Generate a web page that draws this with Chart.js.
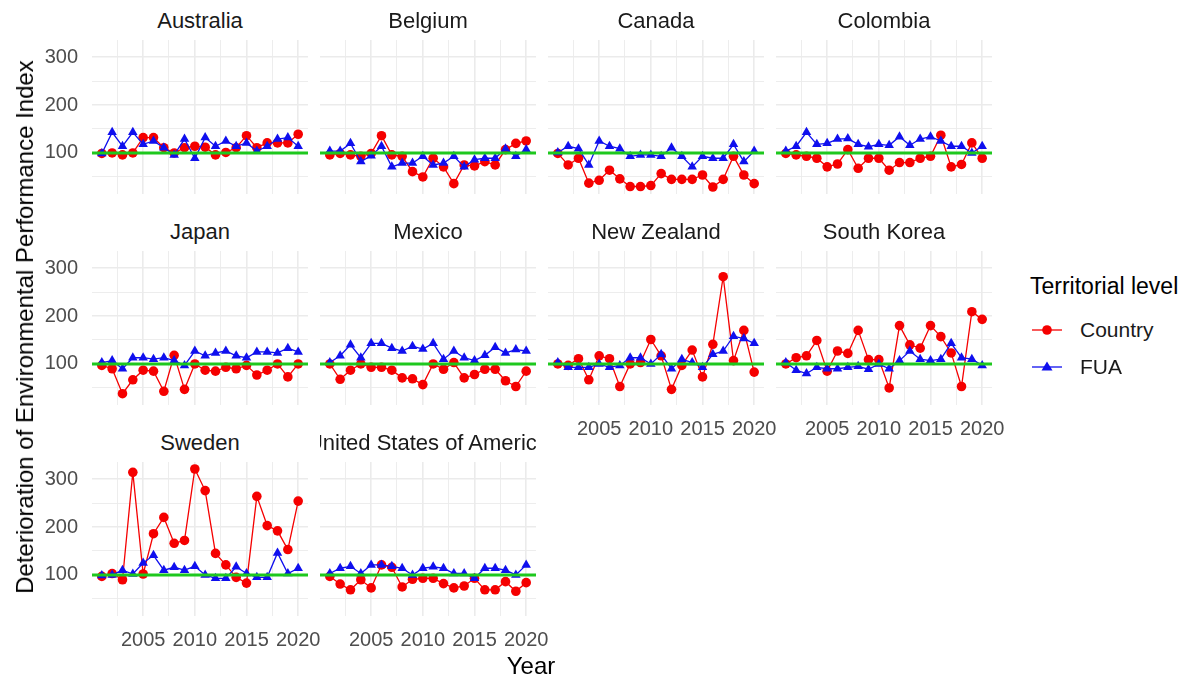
<!DOCTYPE html>
<html>
<head>
<meta charset="utf-8">
<script src="https://cdn.jsdelivr.net/npm/chart.js@4.4.1/dist/chart.umd.min.js"></script>
<style>
  body { margin: 0; background: #fff; font-family: "Liberation Sans", Arial, sans-serif; }
  #fig { position: relative; width: 1200px; height: 681px; overflow: hidden; }
  #fig canvas { position: absolute; }
  .strip { position: absolute; display: flex; justify-content: center; overflow: hidden;
           white-space: nowrap; font-size: 22px; line-height: 24px; color: #1a1a1a; }
  .title { position: absolute; font-size: 24px; color: #000; white-space: nowrap; }
  .legend-item { position: absolute; font-size: 21px; color: #1a1a1a; display: flex; align-items: center; }
</style>
</head>
<body>
<div id="fig"></div>
<script>
// ================= DATA =================
const YEARS = [2001, 2002, 2003, 2004, 2005, 2006, 2007, 2008, 2009, 2010,
               2011, 2012, 2013, 2014, 2015, 2016, 2017, 2018, 2019, 2020];

const COUNTRIES = ['Australia', 'Belgium', 'Canada', 'Colombia', 'Japan', 'Mexico',
                   'New Zealand', 'South Korea', 'Sweden', 'United States of America'];

const X_MAJOR = [2005, 2010, 2015, 2020];
const X_MINOR = [2002.5, 2007.5, 2012.5, 2017.5];
const Y_MAJOR = [100, 200, 300];
const Y_MINOR = [50, 150, 250];
const BASELINE = [100];

// Country level
const AUS_COUNTRY = [99, 100, 96, 100, 132, 132, 111, 100, 111, 114, 112, 96, 101, 111, 136, 111, 121, 121, 121, 139];
const BEL_COUNTRY = [96, 99, 96, 93, 99, 136, 96, 93, 61, 50, 89, 71, 36, 75, 73, 82, 75, 107, 120, 125];
const CAN_COUNTRY = [99, 75, 89, 37, 43, 64, 46, 30, 30, 32, 57, 45, 45, 45, 54, 29, 45, 93, 54, 36];
const COL_COUNTRY = [99, 96, 93, 89, 71, 77, 107, 68, 89, 89, 64, 80, 80, 89, 93, 137, 71, 76, 121, 89];
const JPN_COUNTRY = [97, 90, 38, 67, 87, 85, 43, 118, 47, 100, 87, 85, 93, 90, 97, 77, 87, 100, 73, 100];
const MEX_COUNTRY = [100, 68, 87, 100, 93, 93, 87, 71, 69, 57, 100, 89, 103, 71, 78, 89, 89, 65, 53, 85];
const NZL_COUNTRY = [100, 97, 111, 67, 117, 111, 53, 100, 103, 151, 117, 47, 97, 129, 73, 141, 282, 107, 170, 83];
const KOR_COUNTRY = [100, 113, 117, 149, 85, 127, 122, 170, 109, 109, 50, 180, 140, 133, 180, 157, 123, 53, 209, 193];
const SWE_COUNTRY = [97, 103, 90, 314, 102, 186, 220, 166, 172, 321, 276, 145, 121, 95, 83, 264, 203, 192, 153, 254];
const USA_COUNTRY = [97, 81, 69, 90, 73, 121, 116, 75, 91, 93, 93, 82, 73, 77, 93, 69, 69, 86, 66, 84];

// FUA level
const AUS_FUA = [99, 143, 114, 143, 118, 125, 111, 96, 129, 89, 132, 114, 125, 114, 121, 104, 114, 129, 132, 114];
const BEL_FUA = [104, 104, 120, 82, 94, 114, 71, 79, 79, 93, 75, 79, 93, 71, 86, 89, 89, 109, 93, 107];
const CAN_FUA = [101, 114, 109, 75, 125, 114, 109, 93, 96, 96, 93, 111, 93, 71, 93, 89, 89, 118, 82, 104];
const COL_FUA = [104, 114, 143, 118, 120, 129, 130, 118, 113, 118, 116, 134, 116, 129, 134, 125, 114, 114, 100, 114];
const JPN_FUA = [103, 107, 90, 113, 113, 110, 113, 107, 97, 127, 117, 123, 127, 117, 113, 125, 125, 123, 133, 125];
const MEX_FUA = [103, 117, 140, 113, 143, 143, 133, 127, 137, 131, 143, 110, 127, 113, 107, 118, 135, 123, 130, 127];
const NZL_FUA = [103, 93, 93, 93, 100, 93, 97, 113, 113, 100, 120, 90, 110, 103, 93, 120, 127, 158, 153, 143];
const KOR_FUA = [103, 87, 80, 93, 90, 90, 93, 95, 89, 100, 90, 107, 127, 110, 107, 110, 143, 113, 110, 97];
const SWE_FUA = [99, 100, 110, 102, 125, 141, 110, 116, 110, 118, 100, 93, 93, 117, 103, 95, 95, 146, 103, 114];
const USA_FUA = [103, 114, 118, 103, 121, 121, 118, 114, 100, 114, 117, 114, 103, 103, 93, 114, 114, 110, 100, 121];

const SERIES = {
    'Australia': [AUS_COUNTRY, AUS_FUA],
    'Belgium': [BEL_COUNTRY, BEL_FUA],
    'Canada': [CAN_COUNTRY, CAN_FUA],
    'Colombia': [COL_COUNTRY, COL_FUA],
    'Japan': [JPN_COUNTRY, JPN_FUA],
    'Mexico': [MEX_COUNTRY, MEX_FUA],
    'New Zealand': [NZL_COUNTRY, NZL_FUA],
    'South Korea': [KOR_COUNTRY, KOR_FUA],
    'Sweden': [SWE_COUNTRY, SWE_FUA],
    'United States of America': [USA_COUNTRY, USA_FUA]
};

// ================= LAYOUT =================
const X_MIN = 2000.05, X_MAX = 2020.95;   // ggplot 5% expansion
const Y_MIN = 14.4, Y_MAX = 335.6;
const PLOT_LEFT = 92, PLOT_TOP = 40, PLOT_W = 216, PLOT_H = 154;
const COL_STEP = 228, ROW_STEP = 211;
const Y_AXIS_W = 92, X_AXIS_H = 44, PAD_RIGHT = 30;

const RED = '#f50000', BLUE = '#0f0fee', GREEN = '#1ec81e';
const GRID = '#ebebeb';
const TICK_COLOR = '#4d4d4d';
const FONT = '"Liberation Sans", Arial, sans-serif';

const fig = document.getElementById('fig');

function xy(values) {
    return YEARS.map((yr, i) => ({ x: yr, y: values[i] }));
}

function gridStyle(major) {
    return {
        color: GRID,
        lineWidth: ctx => (ctx.tick && major.includes(ctx.tick.value)) ? 1.6 : 0.9,
        drawTicks: false
    };
}

// scales must not push the plot area around (fixed facet grid)
function noPadding(s) {
    s.paddingTop = 0; s.paddingBottom = 0; s.paddingLeft = 0; s.paddingRight = 0;
}

// ================= PANEL =================
function makePanel(name, idx) {
    const col = idx % 4, row = Math.floor(idx / 4);
    const showY = col === 0;
    const showX = row === 2 || (row === 1 && col >= 2);
    const plotLeft = PLOT_LEFT + col * COL_STEP;
    const plotTop = PLOT_TOP + row * ROW_STEP;

    const canvas = document.createElement('canvas');
    const w = (showY ? Y_AXIS_W : 0) + PLOT_W + PAD_RIGHT;
    const h = PLOT_H + (showX ? X_AXIS_H : 0);
    canvas.width = w; canvas.height = h;
    canvas.style.width = w + 'px'; canvas.style.height = h + 'px';
    canvas.style.left = (showY ? plotLeft - Y_AXIS_W : plotLeft) + 'px';
    canvas.style.top = plotTop + 'px';
    fig.appendChild(canvas);

    const strip = document.createElement('div');
    strip.className = 'strip';
    strip.style.left = plotLeft + 'px';
    strip.style.width = PLOT_W + 'px';
    strip.style.top = (plotTop - 31) + 'px';
    strip.innerHTML = '<span>' + name + '</span>';
    fig.appendChild(strip);

    const [country, fua] = SERIES[name];

    return new Chart(canvas.getContext('2d'), {
        type: 'line',
        data: {
            datasets: [
                {
                    label: 'ref',
                    data: [{ x: X_MIN, y: BASELINE[0] }, { x: X_MAX, y: BASELINE[0] }],
                    borderColor: GREEN, borderWidth: 3, pointRadius: 0, order: 0
                },
                {
                    label: 'FUA',
                    data: xy(fua),
                    borderColor: BLUE, borderWidth: 1.3,
                    pointStyle: 'triangle', pointRadius: 5.5,
                    pointBackgroundColor: BLUE, pointBorderColor: BLUE, pointBorderWidth: 0,
                    order: 1
                },
                {
                    label: 'Country',
                    data: xy(country),
                    borderColor: RED, borderWidth: 1.3,
                    pointStyle: 'circle', pointRadius: 4.8,
                    pointBackgroundColor: RED, pointBorderColor: RED, pointBorderWidth: 0,
                    order: 2
                }
            ]
        },
        options: {
            responsive: false,
            animation: false,
            devicePixelRatio: 1,
            layout: { autoPadding: false, padding: { left: 0, top: 0, bottom: 0, right: PAD_RIGHT } },
            plugins: { legend: { display: false }, tooltip: { enabled: false } },
            elements: { line: { tension: 0 } },
            scales: {
                x: {
                    type: 'linear', min: X_MIN, max: X_MAX,
                    afterBuildTicks: s => { s.ticks = X_MINOR.concat(X_MAJOR).sort((a, b) => a - b).map(v => ({ value: v })); },
                    afterFit: s => { s.height = showX ? X_AXIS_H : 0; noPadding(s); },
                    grid: gridStyle(X_MAJOR),
                    border: { display: false },
                    ticks: {
                        display: showX, autoSkip: false, maxRotation: 0, padding: 12,
                        color: TICK_COLOR, font: { family: FONT, size: 20 },
                        callback: v => X_MAJOR.includes(v) ? String(v) : ''
                    }
                },
                y: {
                    type: 'linear', min: Y_MIN, max: Y_MAX,
                    afterBuildTicks: s => { s.ticks = Y_MINOR.concat(Y_MAJOR).sort((a, b) => a - b).map(v => ({ value: v })); },
                    afterFit: s => { s.width = showY ? Y_AXIS_W : 0; noPadding(s); },
                    grid: gridStyle(Y_MAJOR),
                    border: { display: false },
                    ticks: {
                        display: showY, autoSkip: false, padding: 14,
                        color: TICK_COLOR, font: { family: FONT, size: 20 },
                        callback: v => Y_MAJOR.includes(v) ? String(v) : ''
                    }
                }
            }
        }
    });
}

COUNTRIES.forEach((name, i) => makePanel(name, i));

// ================= TITLES & LEGEND =================
function addText(cls, text, css) {
    const d = document.createElement('div');
    d.className = cls;
    d.textContent = text;
    Object.assign(d.style, css);
    fig.appendChild(d);
    return d;
}

addText('title', 'Year', { left: '531px', top: '666px', transform: 'translate(-50%, -50%)' });
addText('title', 'Deterioration of Environmental Performance Index',
    { left: '25px', top: '327px', transform: 'translate(-50%, -50%) rotate(-90deg)' });
addText('title', 'Territorial level', { left: '1030px', top: '286px', transform: 'translateY(-50%)', fontSize: '23px' });

function legendItem(label, color, marker, y) {
    const d = document.createElement('div');
    d.className = 'legend-item';
    d.style.left = '1030px';
    d.style.top = (y - 15) + 'px';
    d.style.height = '30px';
    const shape = marker === 'circle'
        ? '<circle cx="17" cy="15" r="4.8" fill="' + color + '"/>'
        : '<polygon points="17,9.5 22.5,18.5 11.5,18.5" fill="' + color + '"/>';
    d.innerHTML = '<svg width="34" height="30"><line x1="2" y1="15" x2="32" y2="15" stroke="' + color +
        '" stroke-width="1.3"/>' + shape + '</svg><span style="margin-left:16px">' + label + '</span>';
    fig.appendChild(d);
}

legendItem('Country', RED, 'circle', 330);
legendItem('FUA', BLUE, 'triangle', 367);
</script>
</body>
</html>
